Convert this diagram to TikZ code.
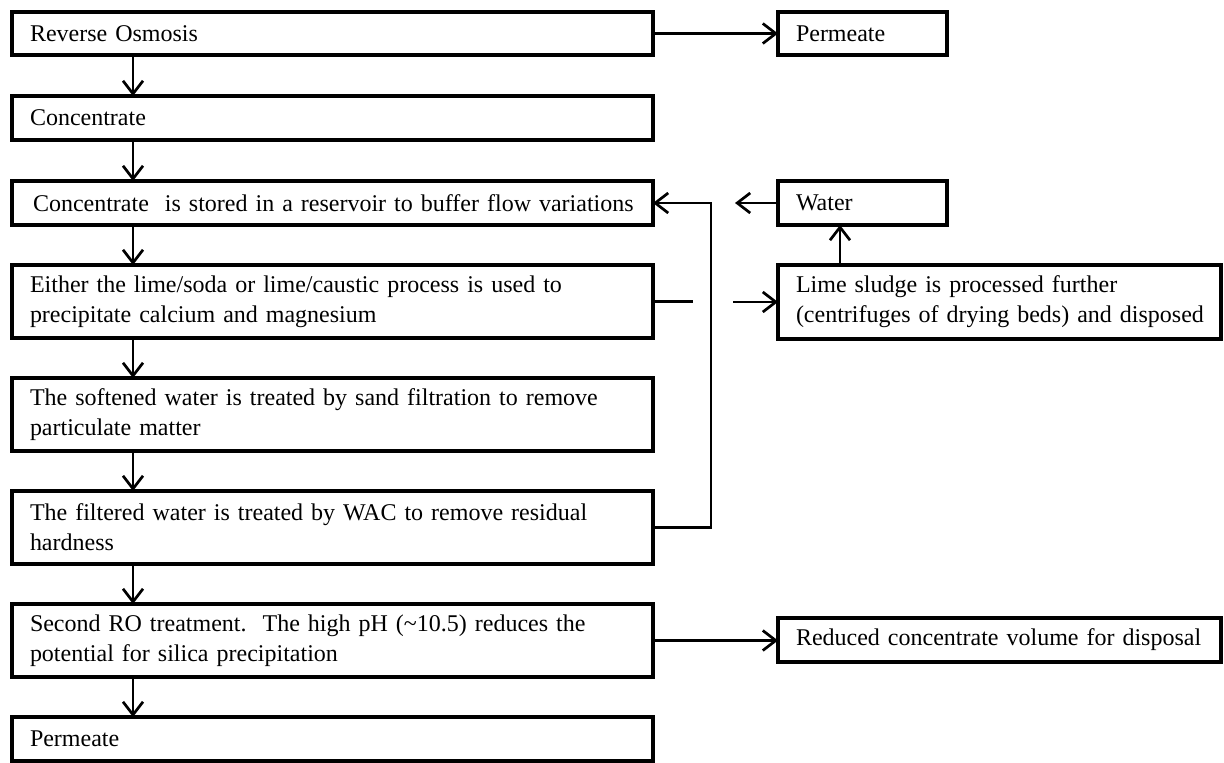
\documentclass[tikz,border=0pt]{standalone}
\usepackage{fontspec}
\setmainfont{Liberation Serif}
\usetikzlibrary{arrows.meta}

\tikzstyle{box}=[draw, line width=3.7pt, outer sep=0pt, anchor=north west, inner xsep=18pt, inner ysep=0pt, align=left, font=\fontsize{24}{30}\selectfont]
\tikzstyle{arrow}=[line width=2.7pt, -{Straight Barb[length=13pt, width=20pt]}]

\begin{document}
\begin{tikzpicture}[x=1pt, y=-1pt]
      \useasboundingbox (0,0) rectangle (1224,763);

      % main column
      \node[box, text width=605pt, minimum height=43pt] (ro) at (12, 12) {Reverse Osmosis};
      \node[box, text width=605pt, minimum height=44pt] (conc) at (12, 96) {Concentrate};
      \node[box, text width=605pt, minimum height=44pt] (store) at (12, 181) {\hspace{3pt}Concentrate\ \ is stored in a reservoir to buffer flow variations};
      \node[box, text width=605pt, minimum height=73pt] (lime) at (12, 265) {Either the lime/soda or lime/caustic process is used to\\precipitate calcium and magnesium};
      \node[box, text width=605pt, minimum height=73pt] (sand) at (12, 378) {The softened water is treated by sand filtration to remove\\particulate matter};
      \node[box, text width=605pt, minimum height=73pt] (wac) at (12, 491) {The filtered water is treated by WAC to remove residual\\hardness};
      \node[box, text width=605pt, minimum height=73pt] (ro2) at (12, 604) {Second RO treatment.\ \ The high pH (\textasciitilde10.5) reduces the\\potential for silica precipitation};
      \node[box, text width=605pt, minimum height=44pt] (perm) at (12, 717) {Permeate};

      % side boxes
      \node[box, text width=133pt, minimum height=43pt] (permR) at (778, 12) {Permeate};
      \node[box, text width=133pt, minimum height=44pt] (water) at (778, 181) {Water};
      \node[box, text width=407pt, minimum height=74pt] (sludge) at (778, 265) {Lime sludge is processed further\\\mbox{(centrifuges of drying beds) and disposed}};
      \node[box, text width=407pt, minimum height=44pt] (reduced) at (778, 618) {\mbox{Reduced concentrate volume for disposal}};

      \coordinate (turn) at (711, 203);
      \coordinate (wtip) at (735, 203);
      \coordinate (lgap) at (693, 301.5);
      \coordinate (lstart) at (733, 301.5);

      \draw[arrow] ([xshift=121pt]ro.south west) to ([xshift=121pt]conc.north west);
      \draw[arrow] ([xshift=121pt]conc.south west) to ([xshift=121pt]store.north west);
      \draw[arrow] ([xshift=121pt]store.south west) to ([xshift=121pt]lime.north west);
      \draw[arrow] ([xshift=121pt]lime.south west) to ([xshift=121pt]sand.north west);
      \draw[arrow] ([xshift=121pt]sand.south west) to ([xshift=121pt]wac.north west);
      \draw[arrow] ([xshift=121pt]wac.south west) to ([xshift=121pt]ro2.north west);
      \draw[arrow] ([xshift=121pt]ro2.south west) to ([xshift=121pt]perm.north west);

      \draw[arrow] (ro.east) to (ro.east -| permR.west);
      \draw[arrow] (wac.east) -| (turn) |- (store.east);
      \draw[arrow] (water.west) to (water.west -| wtip);
      \draw[line width=2.7pt] (lime.east) to (lime.east -| lgap);
      \draw[arrow] (sludge.west -| lstart) to (sludge.west);
      \draw[arrow] ([xshift=62pt]sludge.north west) to ([xshift=62pt]water.south west);
      \draw[arrow] (ro2.east) to (ro2.east -| reduced.west);
    \end{tikzpicture}
\end{document}
